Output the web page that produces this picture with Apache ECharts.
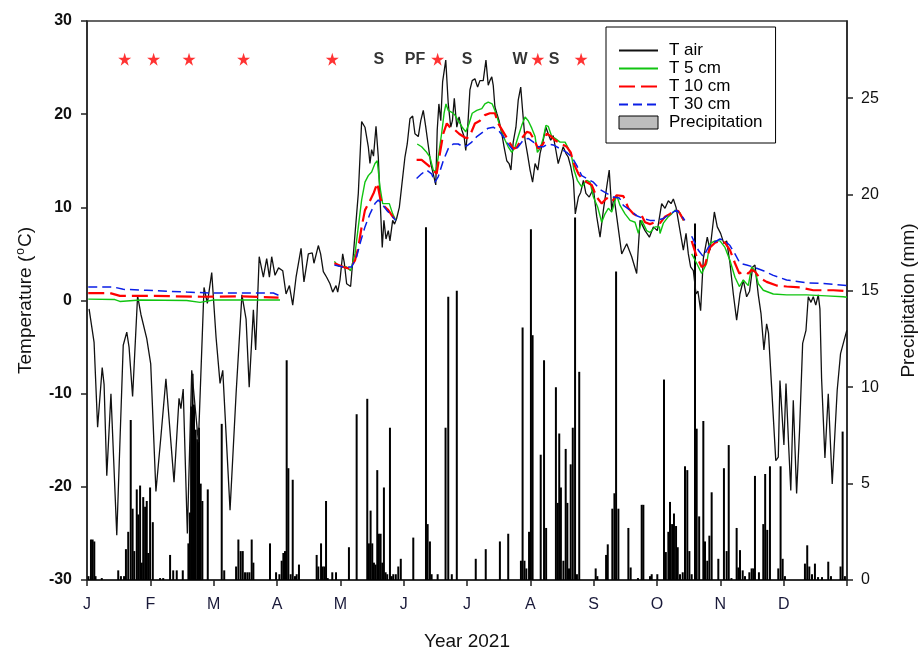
<!DOCTYPE html>
<html>
<head>
<meta charset="utf-8">
<script src="https://cdn.jsdelivr.net/npm/echarts@6/dist/echarts.min.js"></script>
<style>html,body{margin:0;padding:0;background:#fff}#c{width:919px;height:648px}</style>
</head>
<body>
<div id="c"></div>
<script>
// ---- data (x = day of year 2021, 0..365) ----
const monthLabels = ['J','F','M','A','M','J','J','A','S','O','N','D',''];
const tempTicks = [-30,-20,-10,0,10,20,30];
const precipTicks = [0,5,10,15,20,25];

const tAir = [[1.0,-0.9],[2.4,-3.0],[3.4,-4.5],[5.1,-13.6],[7.3,-7.2],[8.2,-9],[9.5,-18.8],[11.5,-10],[14.3,-25.2],[17.4,-4.8],[19.1,-3.4],[20.2,-5],[21.9,-10.3],[24.3,0.5],[25.9,-1.5],[28.7,-4.1],[30.6,-6.8],[33.1,-20.5],[35.5,-14.6],[37.9,-8.4],[41.8,-19.5],[44.2,-10.5],[45.1,-11.6],[46.2,-9.5],[48.2,-25],[50.3,-7.5],[53.5,-15.2],[56.2,1.4],[57.8,-0.3],[59.9,3.0],[62.0,-4],[63.9,-8.9],[65.2,-7.5],[68.7,-22.5],[71.6,-10],[74.4,0.6],[76.4,-2],[77.9,-9.3],[79.9,-1.0],[81.0,-5.3],[82.7,4.7],[84.7,2.5],[86.3,4.5],[87.6,2.5],[88.7,4.7],[90.3,2.7],[92.0,3.5],[94.0,3.2],[95.6,0.7],[97.2,1.6],[98.8,-0.5],[100.4,2.5],[102.8,5.6],[104.2,2.0],[106.3,5.0],[108.2,5.1],[109.0,4.0],[111.1,5.9],[112.2,5.0],[113.5,3.1],[115.1,2.5],[116.7,1.8],[118.0,0.9],[119.6,1.6],[120.4,0.9],[121.5,2.2],[122.8,5.0],[123.6,4.0],[124.7,1.8],[126.6,1.5],[128.2,5.7],[130.3,11.5],[131.9,19.2],[133.5,18.6],[135.1,16.5],[135.9,14.7],[136.7,16.2],[137.6,15.5],[138.8,18.7],[139.9,15.4],[140.7,11.1],[141.8,5.7],[142.6,8.6],[143.6,6.6],[144.7,7.5],[145.5,6.4],[146.8,8.6],[147.7,8.2],[148.7,8.8],[150.0,10.0],[151.1,12.2],[152.7,15.4],[153.8,16.8],[155.1,19.5],[156.4,19.8],[157.5,17.9],[159.1,17.6],[160.3,19.3],[161.5,20.4],[162.7,18.6],[163.8,16.8],[165.1,14.7],[166.3,13.6],[167.5,12.4],[168.2,18.3],[169.0,21.1],[169.9,19.3],[170.8,23.5],[172.3,25.8],[173.5,21.1],[174.7,18.6],[175.5,19.3],[176.4,21.7],[177.6,18.6],[178.7,19.7],[180.0,18.3],[181.1,17.6],[181.9,16.1],[182.6,17.7],[183.9,22.6],[185.0,23.6],[186.3,23.8],[187.6,22.9],[188.7,23.6],[190.3,23.6],[191.6,25.8],[192.7,23.1],[193.5,23.6],[194.4,24.0],[195.1,23.1],[195.9,20.8],[196.8,20.1],[197.9,19.3],[199.2,17.9],[200.3,16.5],[201.6,15.0],[202.7,14.7],[203.6,14.0],[204.7,17.0],[206.0,18.6],[207.1,21.5],[208.3,22.9],[209.2,20.4],[210.4,17.2],[211.5,15.8],[212.8,14.0],[214.0,12.7],[215.2,14.7],[216.5,14.0],[217.6,15.8],[219.1,17.2],[220.4,18.6],[221.5,17.9],[222.7,17.2],[223.9,17.7],[225.2,16.1],[226.3,14.7],[227.5,15.6],[228.7,16.5],[230.0,15.8],[231.1,15.4],[232.3,14.4],[233.6,12.9],[234.5,9.3],[236.0,11.1],[237.1,11.6],[238.4,12.9],[239.6,11.5],[241.2,11.1],[243.2,12.0],[244.8,9.0],[246.4,6.8],[248.0,9.7],[249.6,12.2],[250.8,14.0],[252.0,9.7],[253.1,11.1],[254.4,9.0],[256.8,5.0],[259.2,6.1],[261.6,4.7],[264.0,2.9],[265.6,8.6],[268.0,7.5],[270.1,6.8],[272.0,7.9],[273.9,7.5],[276.0,10.4],[277.6,9.9],[279.2,10.7],[280.5,10.4],[281.6,10.9],[282.9,10.0],[284.8,7.5],[286.4,5.4],[287.7,7.2],[288.8,5.0],[289.9,3.6],[291.2,3.2],[292.5,0.7],[293.4,1.0],[294.7,-1.1],[296.0,4.5],[297.9,6.8],[299.2,5.4],[301.3,9.5],[302.7,7.9],[304.3,7.2],[305.9,6.1],[307.2,6.4],[308.8,4.0],[310.4,0.7],[312.0,-2.1],[313.6,0.7],[315.2,2.2],[316.8,0.4],[318.2,1.0],[319.7,3.6],[320.8,3.8],[322.4,0.6],[323.7,-1.4],[325.1,-5.3],[326.4,-2.5],[327.3,-3.5],[328.8,-9.3],[330.8,-17.2],[332.0,-16.8],[332.8,-8.6],[334.7,-15.5],[335.7,-8.9],[337.0,-15.7],[338.0,-20.4],[339.2,-10.7],[340.8,-20.7],[342.2,-14],[343.7,-4.6],[345.3,-3.2],[346.4,0.4],[347.7,-0.2],[348.8,0.4],[350.0,-0.5],[351.2,0.6],[352.0,-0.9],[352.8,-8.4],[354.4,-16.9],[356.0,-10],[357.9,-19.7],[360.3,-9.6],[361.9,-5.7],[364.9,-3.2]];

const t5cm = [[0.6,0.15],[13.4,0.1],[15.8,-0.1],[25.5,0.05],[47.9,0.0],[54.3,-0.2],[60.7,0.05],[92.7,0.05],[105,null],
[118.8,4.2],[120.7,3.7],[124.7,3.6],[126.6,3.2],[128.7,5.0],[130.3,7.9],[131.9,10.8],[133.5,12.7],[135.1,13.4],[136.7,13.8],[138.3,14.7],[139.4,15.0],[140.7,12.2],[142.0,10.4],[143.6,10.4],[145.2,10.4],[146.8,9.3],[148.3,8.6],[153,null],
[158.6,16.8],[160.7,16.5],[162.8,16.0],[164.7,15.4],[166.3,14.0],[167.5,13.8],[168.7,15.4],[170.3,17.9],[171.5,20.1],[172.4,21.1],[173.5,20.4],[175.2,20.2],[176.7,19.9],[178.3,19.3],[180.2,18.6],[181.9,18.1],[183.5,19.0],[185.0,20.1],[187.2,20.4],[189.6,20.6],[191.1,21.1],[192.7,21.3],[194.6,21.1],[195.9,20.4],[197.5,19.3],[199.2,18.1],[200.8,17.2],[202.3,16.5],[204.0,15.9],[205.6,16.5],[207.1,17.6],[208.8,18.8],[210.4,19.7],[211.9,19.3],[213.6,18.5],[215.2,17.6],[216.3,15.9],[217.6,16.3],[219.1,17.4],[220.4,18.8],[221.5,18.7],[223.2,17.6],[224.8,17.4],[227.2,17.0],[229.6,17.0],[231.2,16.3],[232.8,15.4],[233.9,14.0],[235.5,12.9],[237.6,12.2],[240.0,12.9],[241.6,12.7],[243.2,11.1],[245.3,10.0],[247.2,8.4],[248.8,9.3],[250.4,9.9],[252.0,9.5],[254.4,11.3],[256.0,10.2],[258.4,9.3],[260.8,8.6],[263.2,8.4],[264.8,7.2],[266.4,8.6],[268.8,7.5],[270.4,7.3],[272.8,7.9],[274.9,7.9],[275.2,7.2],[276.8,8.3],[279.2,9.0],[280.8,9.3],[282.4,9.7],[284.8,9.4],[286.4,8.6],[288.5,null],
[290.4,5.0],[292.8,4.0],[295.2,2.9],[297.6,4.0],[299.2,6.1],[301.6,6.4],[304.0,6.4],[306.4,5.7],[308.8,4.3],[311.2,2.5],[313.3,1.5],[315.2,2.2],[317.6,1.6],[319.2,3.6],[320.8,3.2],[322.4,1.8],[324.8,1.1],[329.6,0.7],[336.0,0.6],[345.6,0.6],[355.2,0.5],[363.2,0.4],[365,0.35]];

const t10cm = [[0.6,0.8],[11,0.8],[15.8,0.5],[31,0.5],[55,0.4],[74,0.45],[92,0.3],[105,null],
[118.8,4.0],[123.1,3.6],[126.3,3.4],[128.7,4.3],[130.3,5.7],[131.9,7.9],[133.5,9.7],[135.9,10.7],[137.8,11.6],[139.4,12.6],[140.7,11.1],[142.3,10.2],[144.7,9.7],[146.8,9.0],[148.3,8.6],[153,null],
[158.3,15.1],[160.7,15.1],[163.9,14.5],[166.3,14.0],[167.9,13.6],[169.5,15.8],[171.1,17.9],[172.8,19.0],[174.3,18.6],[176.7,18.3],[178.7,17.9],[180.7,17.6],[182.4,17.4],[183.9,17.7],[186.3,19.0],[188.7,19.3],[191.1,19.9],[193.5,20.1],[195.9,20.1],[197.5,19.0],[199.9,18.1],[202.3,17.2],[204.7,16.3],[206.3,16.4],[208.8,17.4],[211.2,18.1],[212.8,18.0],[214.4,17.4],[216.7,16.3],[219.1,16.8],[220.8,17.9],[222.4,17.7],[224.8,17.2],[228.0,16.8],[230.4,16.5],[232.3,15.9],[233.6,14.8],[236.0,13.6],[237.6,13.1],[240.0,12.7],[242.4,12.4],[244.8,11.1],[247.2,10.4],[249.6,11.0],[252.0,10.6],[254.4,11.3],[257.6,11.2],[260.0,9.9],[262.4,9.3],[264.8,9.0],[266.4,9.1],[268.0,8.4],[270.4,8.2],[272.8,8.4],[275.2,8.3],[277.6,9.0],[280.0,9.3],[282.4,9.7],[284.0,9.6],[285.6,9.0],[286.7,8.6],[288.5,null],
[290.4,6.4],[292.8,4.7],[295.2,3.6],[296.8,3.8],[299.2,5.7],[301.6,6.2],[304.0,6.4],[306.4,6.2],[308.8,5.4],[311.2,4.0],[313.3,2.9],[315.2,3.1],[317.6,2.9],[319.2,3.3],[320.8,3.1],[323.2,2.4],[326.4,2.0],[331.2,1.6],[336.0,1.5],[342.4,1.4],[348.8,1.1],[358.4,1.1],[365,1.0]];

const t30cm = [[0.6,1.46],[12.6,1.46],[17.4,1.2],[28.7,1.1],[47.9,0.9],[60.7,0.8],[81.5,0.8],[89.5,0.8],[92.7,0.5],[105,null],
[118.8,3.8],[123.1,3.6],[127.1,3.6],[129.5,4.7],[131.1,6.1],[133.5,7.9],[135.9,9.3],[138.3,10.4],[139.9,10.8],[141.5,10.4],[143.9,9.7],[146.3,9.1],[148.3,8.6],[153,null],
[158.3,13.1],[160.7,13.6],[163.1,14.0],[165.5,13.6],[167.1,12.7],[168.7,13.3],[171.1,15.0],[173.5,16.3],[175.9,16.8],[178.3,16.8],[180.7,16.5],[182.4,16.6],[184.8,17.0],[187.2,17.6],[190.3,18.1],[192.7,18.5],[195.1,18.6],[197.5,18.3],[199.9,17.6],[202.3,16.8],[204.7,16.1],[207.1,16.5],[209.5,17.2],[211.9,17.4],[214.4,17.0],[216.7,16.5],[219.1,16.5],[221.5,16.8],[223.9,16.7],[227.2,16.3],[230.4,15.9],[232.8,15.4],[235.2,14.5],[237.6,13.4],[240.0,13.1],[243.2,12.7],[246.4,11.9],[249.6,11.5],[252.8,11.1],[255.7,11.0],[257.6,10.2],[260.8,9.7],[264.0,9.1],[267.2,8.8],[270.4,8.6],[273.6,8.6],[276.8,8.8],[280.0,9.3],[283.2,9.7],[285.6,9.1],[287.1,8.6],[288.5,null],
[290.4,6.9],[293.6,5.4],[296.0,4.7],[298.4,5.7],[300.8,6.2],[304.0,6.6],[306.4,6.4],[308.8,5.9],[311.2,5.0],[313.6,4.0],[316.8,3.8],[320.0,3.6],[324.8,3.2],[329.6,2.7],[336.0,2.2],[345.6,1.9],[355.2,1.8],[365,1.6]];

const precip = [[0.7,0.2],[1.9,2.1],[2.7,2.1],[3.5,2.0],[4.1,0.2],[7.1,0.1],[15.0,0.5],[16.3,0.2],[17.8,0.2],[18.7,1.6],[19.8,2.5],[21.0,8.3],[21.9,3.7],[22.7,1.5],[23.9,4.7],[24.6,3.4],[25.5,4.9],[26.3,0.9],[27.0,4.3],[27.9,3.8],[28.7,4.1],[29.4,1.4],[30.3,4.8],[31.6,3.0],[35.1,0.1],[36.6,0.1],[39.9,1.3],[41.4,0.5],[43.1,0.5],[46.0,0.5],[48.7,1.9],[49.4,3.5],[50.0,9.0],[50.7,10.7],[51.4,9.1],[52.2,7.8],[53.0,7.3],[53.8,7.9],[54.6,5.0],[55.4,4.1],[58.0,4.7],[64.7,8.1],[65.9,0.5],[71.6,0.7],[72.7,2.1],[73.8,1.5],[74.8,1.5],[75.9,0.4],[77.0,0.4],[78.0,0.4],[79.1,2.1],[79.9,0.9],[87.9,1.9],[90.8,0.4],[92.4,0.3],[93.5,1.0],[94.3,1.4],[95.1,1.5],[95.9,11.4],[96.7,5.8],[97.8,0.3],[98.8,5.2],[99.9,0.2],[100.7,0.3],[101.8,0.8],[110.3,1.3],[111.1,0.7],[112.4,1.9],[113.2,0.7],[114.0,0.7],[114.8,4.1],[115.6,0.1],[117.8,0.4],[119.6,0.4],[125.8,1.7],[129.5,8.6],[134.6,9.4],[135.4,1.9],[136.2,3.6],[137.0,1.9],[137.8,0.9],[138.6,0.8],[139.4,5.7],[140.2,2.4],[141.0,2.4],[141.8,0.9],[142.6,4.8],[143.4,0.4],[144.2,0.3],[145.5,7.9],[146.3,0.2],[147.1,0.3],[148.3,0.3],[149.5,0.7],[150.7,1.1],[156.7,2.2],[162.8,18.3],[163.6,2.9],[164.7,2.0],[165.5,0.3],[168.4,0.3],[172.2,7.9],[173.5,14.7],[175.2,0.3],[177.6,15.0],[186.7,1.1],[191.5,1.6],[198.3,2.0],[202.3,2.4],[208.4,1.0],[209.2,13.1],[210.1,1.0],[211.0,0.6],[212.3,2.5],[213.2,18.2],[214.0,12.7],[217.9,6.5],[219.5,11.4],[220.5,2.7],[225.2,10.0],[226.1,4.0],[226.8,7.6],[227.6,4.8],[228.8,1.0],[229.9,6.8],[230.7,4.0],[231.5,0.6],[232.3,6.0],[233.3,7.9],[234.4,18.8],[235.3,0.3],[236.4,10.8],[244.3,0.6],[245.1,0.2],[249.3,1.3],[250.1,1.85],[252.3,3.7],[253.3,4.5],[254.1,16.0],[255.2,3.7],[260.0,2.7],[261.1,0.65],[264.6,0.1],[266.4,3.9],[267.2,3.9],[270.4,0.2],[271.2,0.3],[273.9,0.3],[277.1,10.4],[278.0,1.45],[279.2,2.5],[280.0,4.05],[281.0,2.9],[281.9,3.45],[282.9,2.8],[283.7,1.7],[284.8,0.3],[286.1,0.4],[287.2,5.9],[288.3,5.7],[289.3,1.5],[290.4,0.3],[292.0,18.5],[292.8,7.85],[294.0,3.3],[296.0,8.25],[296.8,2.0],[297.9,1.0],[298.9,2.3],[300.0,4.55],[303.2,1.1],[305.9,5.8],[307.2,1.5],[308.2,7.0],[309.5,0.1],[312.0,2.7],[312.8,0.65],[313.6,1.55],[314.9,0.5],[316.0,0.2],[318.1,0.4],[319.2,0.6],[320.0,0.6],[320.8,5.4],[322.7,0.4],[324.8,2.9],[325.7,5.5],[326.7,2.6],[328.0,5.9],[332.0,0.6],[333.1,5.9],[334.1,1.1],[335.2,0.2],[344.8,0.85],[345.9,1.8],[346.9,0.7],[348.2,0.3],[349.6,0.85],[351.1,0.15],[353.0,0.15],[356.0,0.95],[357.3,0.2],[361.9,0.7],[362.9,7.7],[364.0,0.2]];

const starDays = [18.1, 32.0, 49.0, 75.2, 117.8, 168.4, 216.5, 237.3];
const markerLevel = 25.9;
const eventNames = ['S','PF','S','W','S'];
const eventDays = [140.2, 157.5, 182.6, 208.0, 224.3];

// ---- chart ----
const FONT = 'Arial, "Liberation Sans", sans-serif';
const monthTicks = monthLabels.map((_, i) => i * 365 / 12);
const STAR = 'path://M50,0 L61.2,34.5 L97.6,34.5 L68.2,55.9 L79.4,90.5 L50,69.1 L20.6,90.5 L31.8,55.9 L2.4,34.5 L38.8,34.5 Z';

const chart = echarts.init(document.getElementById('c'), null, {renderer: 'canvas'});
const axisCol = '#222';
chart.setOption({
  animation: false,
  backgroundColor: '#fff',
  grid: {left: 87, right: 72, top: 21, bottom: 68, outerBoundsMode: 'none', containLabel: false,
         show: true, borderColor: '#333', borderWidth: 1.5, backgroundColor: 'transparent'},
  legend: {
    orient: 'vertical', left: 606, top: 27,
    padding: [15, 13, 12, 12], itemWidth: 39, itemHeight: 13, itemGap: 1,
    borderColor: '#000', borderWidth: 1, backgroundColor: '#fff',
    itemStyle: {opacity: 0},
    textStyle: {fontFamily: FONT, fontSize: 17, lineHeight: 17, color: '#000', padding: [0, 0, 0, 6]},
    data: [
      {name: 'T air'}, {name: 'T 5 cm'}, {name: 'T 10 cm'}, {name: 'T 30 cm'},
      {name: 'Precipitation', icon: 'rect', itemStyle: {color: '#bdbdbd', borderColor: '#000', borderWidth: 1, opacity: 1}}
    ]
  },
  xAxis: {
    type: 'value', min: 0, max: 365,
    name: 'Year 2021', nameLocation: 'middle', nameGap: 52,
    nameTextStyle: {fontFamily: FONT, fontSize: 19, color: '#111'},
    axisLine: {onZero: false, lineStyle: {color: axisCol, width: 1.5}},
    axisTick: {customValues: monthTicks, length: 6, lineStyle: {color: axisCol, width: 1.5}},
    axisLabel: {customValues: monthTicks, margin: 17, fontFamily: FONT, fontSize: 16, color: '#1a1a3a',
      formatter: v => monthLabels[Math.round(v * 12 / 365)] || ''},
    splitLine: {show: false}
  },
  yAxis: [
    {
      type: 'value', min: -30, max: 30, interval: 10, position: 'left',
      name: '{a|Temperature (}{s|o}{a|C)}', nameLocation: 'middle', nameGap: 50, nameRotate: 90,
      nameTextStyle: {rich: {
        a: {fontFamily: FONT, fontSize: 19, color: '#111', lineHeight: 22},
        s: {fontFamily: FONT, fontSize: 12, color: '#111', verticalAlign: 'top', lineHeight: 22, padding: [0, 1, 10, 1]}
      }},
      axisLine: {show: true, onZero: false, lineStyle: {color: axisCol, width: 1.5}},
      axisTick: {show: true, length: 6, lineStyle: {color: axisCol, width: 1.5}},
      axisLabel: {customValues: tempTicks, margin: 15, fontFamily: FONT, fontSize: 16, fontWeight: 'bold', color: '#111'},
      splitLine: {show: false}
    },
    {
      type: 'value', min: 0, max: 29, interval: 5, position: 'right',
      name: 'Precipitation (mm)', nameLocation: 'middle', nameGap: 52, nameRotate: 90,
      nameTextStyle: {fontFamily: FONT, fontSize: 19, color: '#111'},
      axisLine: {show: true, onZero: false, lineStyle: {color: axisCol, width: 1.5}},
      axisTick: {show: true, customValues: precipTicks, length: 6, lineStyle: {color: axisCol, width: 1.5}},
      axisLabel: {customValues: precipTicks, margin: 14, fontFamily: FONT, fontSize: 16, color: '#111'},
      splitLine: {show: false}
    }
  ],
  series: [
    {name: 'Precipitation', type: 'bar', yAxisIndex: 1, data: precip, barWidth: 2,
     itemStyle: {color: '#000'}, z: 1, silent: true},
    {name: 'T air', type: 'line', data: tAir, symbol: 'none', z: 3,
     lineStyle: {color: '#111', width: 1.3}, itemStyle: {color: '#111'}},
    {name: 'T 5 cm', type: 'line', data: t5cm, symbol: 'none', z: 4, connectNulls: false,
     lineStyle: {color: '#11c411', width: 1.4}, itemStyle: {color: '#11c411'}},
    {name: 'T 10 cm', type: 'line', data: t10cm, symbol: 'none', z: 5, connectNulls: false,
     lineStyle: {color: '#ff0000', width: 2.2, type: [16, 6]}, itemStyle: {color: '#ff0000'}},
    {name: 'T 30 cm', type: 'line', data: t30cm, symbol: 'none', z: 6, connectNulls: false,
     lineStyle: {color: '#0a1ee6', width: 1.5, type: [9, 5]}, itemStyle: {color: '#0a1ee6'}},
    {name: 'stars', type: 'scatter', data: starDays.map(d => [d, markerLevel]), symbol: STAR, symbolSize: 13,
     itemStyle: {color: '#ff0000'}, z: 7, silent: true},
    {name: 'events', type: 'scatter', symbol: 'circle', symbolSize: 1, itemStyle: {color: 'rgba(0,0,0,0)'}, z: 7, silent: true,
     data: eventNames.map((n, i) => ({name: n, value: [eventDays[i], markerLevel]})),
     label: {show: true, position: 'inside', formatter: p => p.name, fontFamily: FONT, fontSize: 16, fontWeight: 'bold', color: '#000'}}
  ]
});
</script>
</body>
</html>
